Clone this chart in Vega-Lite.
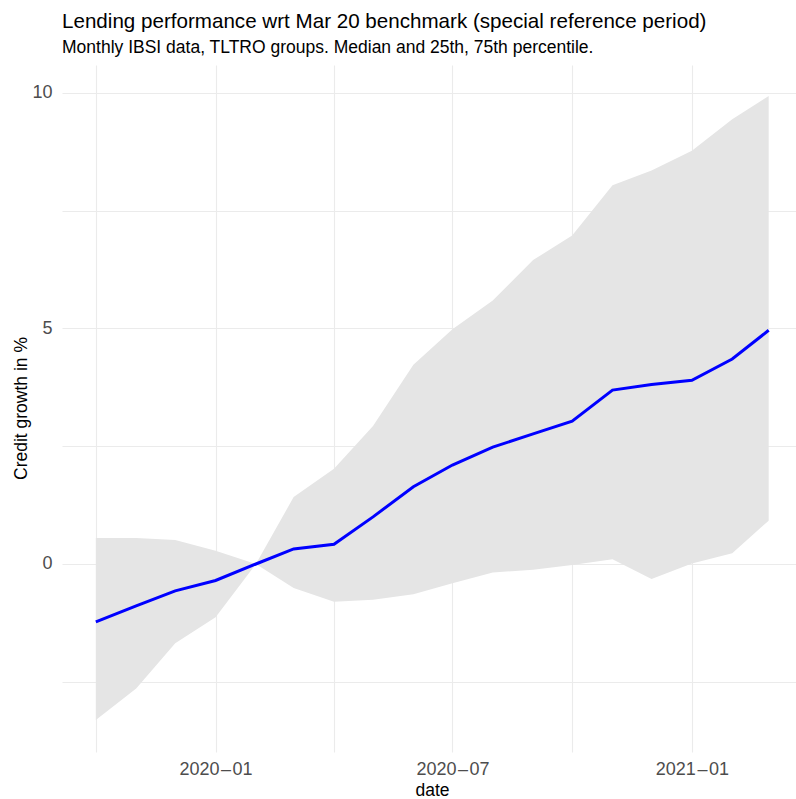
{
  "$schema": "https://vega.github.io/schema/vega-lite/v6.json",
  "width": 734,
  "height": 687,
  "autosize": {"type": "none"},
  "padding": {"left": 62, "top": 65, "right": 0, "bottom": 47},
  "background": "white",
  "config": {"view": {"stroke": null}, "font": "Liberation Sans"},
  "title": {
    "text": "Lending performance wrt Mar 20 benchmark (special reference period)",
    "subtitle": "Monthly IBSI data, TLTRO groups. Median and 25th, 75th percentile.",
    "anchor": "start",
    "frame": "group",
    "font": "Liberation Sans",
    "subtitleFont": "Liberation Sans",
    "fontSize": 20.6,
    "subtitleFontSize": 17.5,
    "fontWeight": "normal",
    "color": "#000000",
    "subtitleColor": "#000000",
    "offset": 9,
    "subtitlePadding": 6
  },
  "data": {
    "values": [
      {"date": "2019-10-01", "lo": -3.31, "med": -1.23, "hi": 0.55},
      {"date": "2019-11-01", "lo": -2.64, "med": -0.89, "hi": 0.55},
      {"date": "2019-12-01", "lo": -1.68, "med": -0.57, "hi": 0.51},
      {"date": "2020-01-01", "lo": -1.13, "med": -0.35, "hi": 0.28},
      {"date": "2020-02-01", "lo": 0.0, "med": 0.0, "hi": 0.0},
      {"date": "2020-03-01", "lo": -0.51, "med": 0.32, "hi": 1.42},
      {"date": "2020-04-01", "lo": -0.8, "med": 0.42, "hi": 2.02},
      {"date": "2020-05-01", "lo": -0.76, "med": 1.0, "hi": 2.93},
      {"date": "2020-06-01", "lo": -0.64, "med": 1.64, "hi": 4.23},
      {"date": "2020-07-01", "lo": -0.41, "med": 2.1, "hi": 4.98},
      {"date": "2020-08-01", "lo": -0.18, "med": 2.48, "hi": 5.59},
      {"date": "2020-09-01", "lo": -0.12, "med": 2.76, "hi": 6.45},
      {"date": "2020-10-01", "lo": -0.02, "med": 3.03, "hi": 6.97},
      {"date": "2020-11-01", "lo": 0.1, "med": 3.69, "hi": 8.04},
      {"date": "2020-12-01", "lo": -0.32, "med": 3.81, "hi": 8.35},
      {"date": "2021-01-01", "lo": 0.01, "med": 3.9, "hi": 8.77},
      {"date": "2021-02-01", "lo": 0.23, "med": 4.35, "hi": 9.44},
      {"date": "2021-03-01", "lo": 0.92, "med": 4.96, "hi": 9.93}
    ]
  },
  "encoding": {
    "x": {
      "field": "date",
      "type": "temporal",
      "title": "date",
      "scale": {
        "type": "utc",
        "domain": [
          {"year": 2019, "month": 9, "date": 5, "utc": true},
          {"year": 2021, "month": 3, "date": 22, "utc": true}
        ]
      },
      "axis": {
        "values": [
          {"year": 2019, "month": 10, "date": 1, "utc": true},
          {"year": 2020, "month": 1, "date": 1, "utc": true},
          {"year": 2020, "month": 4, "date": 1, "utc": true},
          {"year": 2020, "month": 7, "date": 1, "utc": true},
          {"year": 2020, "month": 10, "date": 1, "utc": true},
          {"year": 2021, "month": 1, "date": 1, "utc": true}
        ],
        "labelExpr": "utcmonth(datum.value) % 6 == 0 ? utcFormat(datum.value, '%Y\u200a\u2013\u200a%m') : ''",
        "domain": false,
        "ticks": false,
        "grid": true,
        "gridColor": "#EBEBEB",
        "gridWidth": 1.1,
        "labelFont": "Liberation Sans",
        "labelFontSize": 18,
        "labelColor": "#4D4D4D",
        "labelBaseline": "alphabetic",
        "labelPadding": 22,
        "labelFlush": false,
        "labelOverlap": false,
        "titleFont": "Liberation Sans",
        "titleFontSize": 17.5,
        "titleFontWeight": "normal",
        "titleColor": "#000000",
        "titleX": 370,
        "titleY": 43,
        "titleAlign": "center",
        "titleBaseline": "alphabetic"
      }
    }
  },
  "layer": [
    {
      "mark": {"type": "area", "color": "#E5E5E5", "opacity": 1},
      "encoding": {
        "y": {
          "field": "lo",
          "type": "quantitative",
          "title": "Credit growth in %",
          "scale": {"domain": [-3.99, 10.59], "nice": false, "zero": false},
          "axis": {
            "values": [-2.5, 0, 2.5, 5, 7.5, 10],
            "labelExpr": "datum.value % 5 == 0 ? format(datum.value, 'd') : ''",
            "domain": false,
            "ticks": false,
            "grid": true,
            "gridColor": "#EBEBEB",
            "gridWidth": 1.1,
            "labelFont": "Liberation Sans",
            "labelFontSize": 18,
            "labelColor": "#4D4D4D",
            "labelPadding": 10,
            "labelOverlap": false,
            "labelFlush": false,
            "titleFont": "Liberation Sans",
            "titleFontSize": 17.5,
            "titleFontWeight": "normal",
            "titleColor": "#000000",
            "titleAngle": 270,
            "titleX": -36,
            "titleY": 343,
            "titleAlign": "center",
            "titleBaseline": "alphabetic"
          }
        },
        "y2": {"field": "hi"}
      }
    },
    {
      "mark": {"type": "line", "color": "#0000FF", "strokeWidth": 3},
      "encoding": {
        "y": {"field": "med", "type": "quantitative", "title": "Credit growth in %"}
      }
    },
    {
      "mark": {"type": "rule", "color": "#FF0000", "strokeWidth": 1.5},
      "encoding": {
        "y": {"datum": 0, "type": "quantitative", "title": "Credit growth in %"}
      }
    }
  ]
}
